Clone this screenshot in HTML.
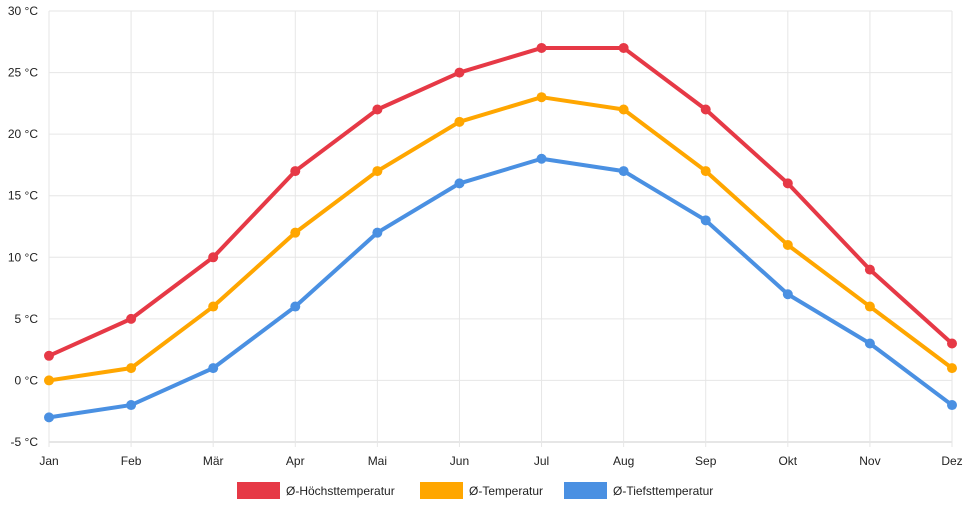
<!DOCTYPE html>
<html><head><meta charset="utf-8"><style>
body{margin:0;background:#fff;font-family:"Liberation Sans",sans-serif;}
svg text{font-family:"Liberation Sans",sans-serif;font-size:12px;fill:#222;}
</style></head><body>
<svg id="chart" width="968" height="508" viewBox="0 0 968 508" xmlns="http://www.w3.org/2000/svg">
<g id="grid"></g>
<g id="axes"></g>
<g id="series"></g>
<g id="legend"></g>
</svg>
<script>
const months=["Jan","Feb","Mär","Apr","Mai","Jun","Jul","Aug","Sep","Okt","Nov","Dez"];
const highTemps=[2,5,10,17,22,25,27,27,22,16,9,3];
const meanTemps=[0,1,6,12,17,21,23,22,17,11,6,1];
const lowTemps=[-3,-2,1,6,12,16,18,17,13,7,3,-2];
const yTicks=[-5,0,5,10,15,20,25,30];
const seriesNames=["Ø-Höchsttemperatur","Ø-Temperatur","Ø-Tiefsttemperatur"];
const seriesColors=["#e63946","#ffa600","#4a90e2"];
const NS="http://www.w3.org/2000/svg";
const x0=49,x1=952,yTop=11,yBot=442,yMin=-5,yMax=30;
const xs=i=>x0+i*(x1-x0)/(months.length-1);
const ys=v=>yBot-(v-yMin)*(yBot-yTop)/(yMax-yMin);
function mk(t,a,p){const e=document.createElementNS(NS,t);for(const k in a)e.setAttribute(k,a[k]);p.appendChild(e);return e;}
const grid=document.getElementById('grid'),axes=document.getElementById('axes'),ser=document.getElementById('series'),leg=document.getElementById('legend');
yTicks.forEach(v=>{
 const l=mk('line',{x1:x0,x2:x1,y1:ys(v),y2:ys(v),stroke:v===yMin?'#ccc':'#e6e6e6','stroke-width':1},grid);
 
 
 const t=mk('text',{x:38,y:ys(v)+4,'text-anchor':'end'},axes);t.textContent=v+" °C";
 
 
});
months.forEach((m,i)=>{
 const l=mk('line',{x1:xs(i),x2:xs(i),y1:yTop,y2:yBot+5,stroke:'#e6e6e6','stroke-width':1},grid);
 
 
 const t=mk('text',{x:xs(i),y:465,'text-anchor':'middle'},axes);t.textContent=m;
 
 
});
[lowTemps,meanTemps,highTemps].forEach((d,k)=>{
 const idx=2-k,c=seriesColors[idx];
 const p=mk('polyline',{points:d.map((v,i)=>xs(i)+","+ys(v)).join(" "),fill:'none',stroke:c,'stroke-width':4,'stroke-linejoin':'round'},ser);
 
 
 d.forEach((v,i)=>{const ci=mk('circle',{cx:xs(i),cy:ys(v),r:5,fill:c},ser);
 
 });
});
const legX=[237,420,564];
seriesNames.forEach((n,i)=>{
 const r=mk('rect',{x:legX[i],y:482,width:43,height:17,fill:seriesColors[i]},leg);
 
 
 const t=mk('text',{x:legX[i]+49,y:495},leg);t.textContent=n;
 
 
});
</script>
</body></html>
